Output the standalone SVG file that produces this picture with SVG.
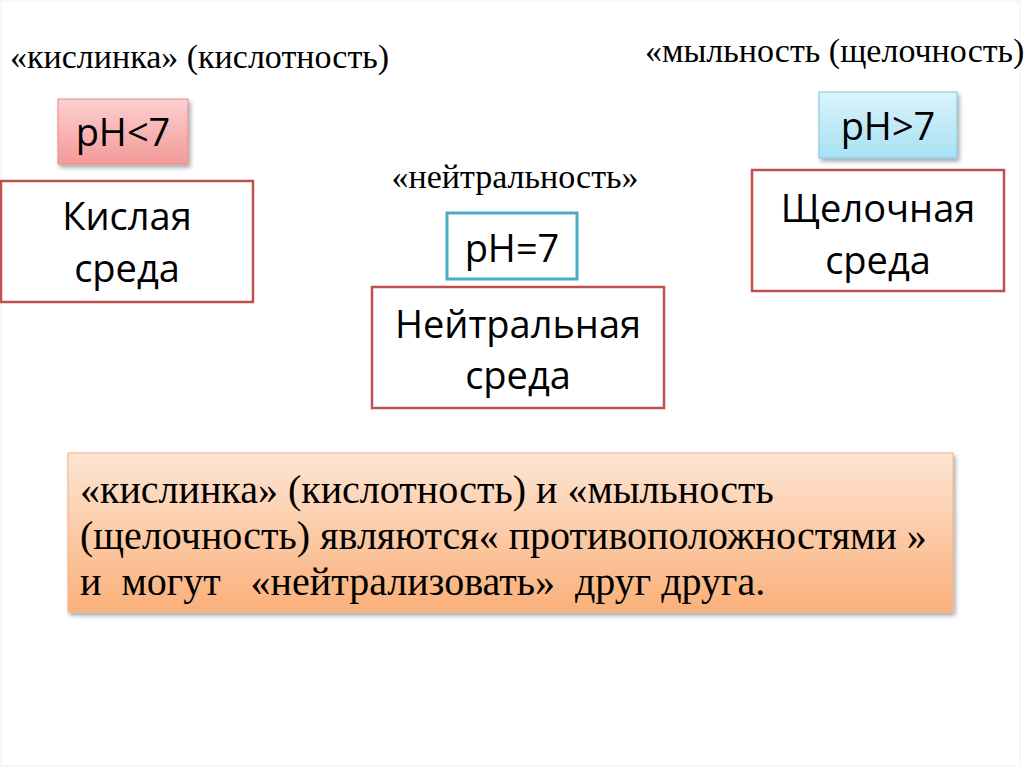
<svg xmlns="http://www.w3.org/2000/svg" width="1024" height="767" viewBox="0 0 1024 767">
<defs>
<linearGradient id="gPink" x1="0" y1="0" x2="0" y2="1"><stop offset="0" stop-color="#fbd0cf"/><stop offset="1" stop-color="#f39a98"/></linearGradient>
<linearGradient id="gBlue" x1="0" y1="0" x2="0" y2="1"><stop offset="0" stop-color="#dcf3fb"/><stop offset="1" stop-color="#a6e1f4"/></linearGradient>
<linearGradient id="gOrange" x1="0" y1="0" x2="0" y2="1"><stop offset="0" stop-color="#fde5d3"/><stop offset="1" stop-color="#fab07a"/></linearGradient>
<filter id="sh" x="-10%" y="-10%" width="130%" height="140%"><feDropShadow dx="2" dy="3" stdDeviation="2" flood-color="#000" flood-opacity="0.35"/></filter>
</defs>
<style>
.serif{font-family:"Liberation Serif","Times New Roman",serif;fill:#000}
.top{font-size:34px}
.body{font-size:40px}
.sans{font-family:"Open Sans","Noto Sans","Liberation Sans",sans-serif;fill:#000;font-size:38px}
.red{fill:#fff;stroke:#c0504d;stroke-width:2.5}
.pre{white-space:pre}
</style>
<rect width="1024" height="767" fill="#fff"/>
<rect x="1" y="1" width="1019" height="765" fill="none" stroke="#f0f0f0" stroke-width="1"/>

<g id="label-acid">
<text class="serif top" x="10" y="68">«кислинка» (кислотность)</text>
</g>
<g id="label-alkali">
<text class="serif top" x="645" y="62">«мыльность (щелочность)</text>
</g>
<g id="label-neutral">
<text class="serif top" x="515" y="188" text-anchor="middle">«нейтральность»</text>
</g>

<g id="ph-lt7">
<rect x="58" y="99" width="130" height="65" fill="url(#gPink)" stroke="#e58a88" stroke-width="1" filter="url(#sh)"/>
<text class="sans" x="123" y="146" text-anchor="middle">pH&lt;7</text>
</g>
<g id="acid-medium">
<rect class="red" x="1" y="181" width="252" height="121"/>
<text class="sans" x="127" y="230" text-anchor="middle">Кислая</text>
<text class="sans" x="127" y="282" text-anchor="middle">среда</text>
</g>

<g id="ph-eq7">
<rect x="447" y="213" width="130" height="66" fill="#fff" stroke="#4bacc6" stroke-width="3"/>
<text class="sans" x="512" y="262" text-anchor="middle">pH=7</text>
</g>
<g id="neutral-medium">
<rect class="red" x="372" y="287" width="292" height="121"/>
<text class="sans" x="518" y="338" text-anchor="middle">Нейтральная</text>
<text class="sans" x="518" y="389" text-anchor="middle">среда</text>
</g>

<g id="ph-gt7">
<rect x="819" y="92" width="138" height="66" fill="url(#gBlue)" stroke="#7fc6dc" stroke-width="1" filter="url(#sh)"/>
<text class="sans" x="888" y="140" text-anchor="middle">pH&gt;7</text>
</g>
<g id="alkali-medium">
<rect class="red" x="752" y="170" width="252" height="121"/>
<text class="sans" x="878" y="222" text-anchor="middle">Щелочная</text>
<text class="sans" x="878" y="274" text-anchor="middle">среда</text>
</g>

<g id="summary">
<rect x="68" y="453" width="885" height="159" fill="url(#gOrange)" stroke="#f4b183" stroke-width="1" filter="url(#sh)"/>
<text class="serif body pre" x="80" y="503">«кислинка» (кислотность) и «мыльность</text>
<text class="serif body pre" x="80" y="549">(щелочность) являются« противоположностями »</text>
<text class="serif body pre" x="80" y="595">и  могут   «нейтрализовать»  друг друга.</text>
</g>

<g id="connectors"></g>
</svg>
